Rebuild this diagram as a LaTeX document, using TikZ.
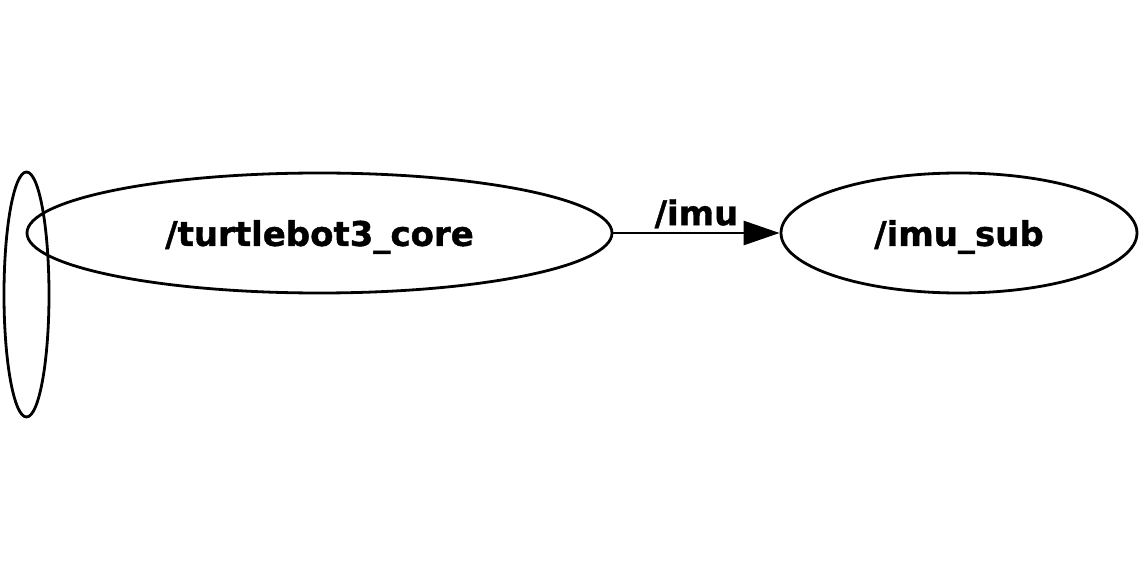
\documentclass[tikz,border=0pt]{standalone}
\usepackage{fontspec}
\setmainfont{DejaVu Sans}
\newfontfamily\heavyfont[FakeBold=1.2]{DejaVu Sans Bold}
\usetikzlibrary{arrows.meta,shapes.geometric}
\begin{document}
\begin{tikzpicture}[x=1pt,y=-1pt,
  nodebox/.style={draw,line width=2.8pt,ellipse,inner sep=0pt},
  lbl/.style={font=\fontsize{34}{34}\selectfont\heavyfont},
  edge/.style={line width=2.8pt,-{Triangle[length=36pt,width=24pt]}}]
\useasboundingbox (0,0) rectangle (1141,588);
\node[nodebox,minimum width=585pt,minimum height=120pt] (core) at (319.5,233) {};
\node[lbl,yshift=-4pt] (coretext) at (core.center) {/turtlebot3\_core};
\node[nodebox,minimum width=356pt,minimum height=120pt] (sub) at (959,233) {};
\node[lbl,yshift=-4pt] (subtext) at (sub.center) {/imu\_sub};
\node[nodebox,minimum width=45pt,minimum height=245pt] (loop) at (26.5,294.5) {};
\draw[edge] (core.east) -- node[lbl,above=0pt] (imulbl) {/imu} (sub.west);
\end{tikzpicture}
\end{document}
